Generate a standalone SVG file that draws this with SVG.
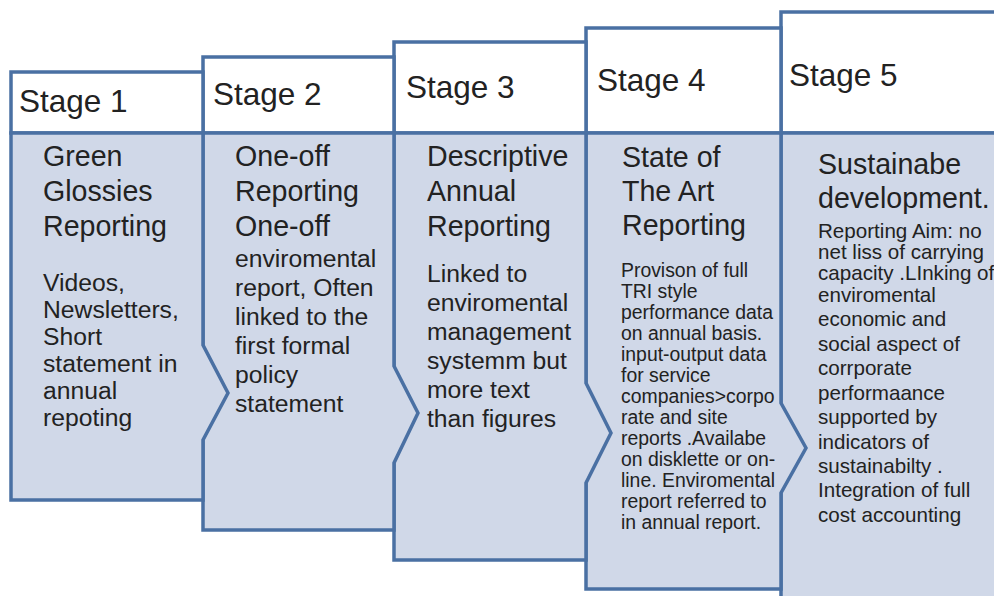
<svg xmlns="http://www.w3.org/2000/svg" width="994" height="596" viewBox="0 0 994 596">
  <style>
    .edge { stroke: #4A70A3; stroke-width: 3.5; stroke-linejoin: miter; }
    .head { fill: #FFFFFF; }
    .body { fill: #D0D8E8; }
    text { font-family: "Liberation Sans", Arial, sans-serif; fill: #222222; }
    .lbl { font-size: 31.5px; }
    .ttl { font-size: 28.6px; }
    .txt { font-size: 24.7px; }
    .txt4 { font-size: 19.4px; }
    .txt5 { font-size: 20.6px; }
  </style>
  <rect width="994" height="596" fill="#FFFFFF"/>

  <!-- stages are drawn back to front so each arrow tip overlaps the next column -->
  <g id="stage5">
    <rect class="head edge" x="781" y="12" width="230" height="121"/>
    <rect class="body edge" x="781" y="133" width="230" height="487"/>
    <text class="lbl" x="789" y="86">Stage 5</text>
    <text class="ttl" x="818" y="174">Sustainabe</text>
    <text class="ttl" x="818" y="208">development.</text>
    <text class="txt5" x="818" y="238">Reporting Aim: no</text>
    <text class="txt5" x="818" y="259">net liss of carrying</text>
    <text class="txt5" x="818" y="280">capacity .LInking of</text>
    <text class="txt5" x="818" y="302">enviromental</text>
    <text class="txt5" x="818" y="326">economic and</text>
    <text class="txt5" x="818" y="351">social aspect of</text>
    <text class="txt5" x="818" y="375">corrporate</text>
    <text class="txt5" x="818" y="400">performaance</text>
    <text class="txt5" x="818" y="424">supported by</text>
    <text class="txt5" x="818" y="449">indicators of</text>
    <text class="txt5" x="818" y="473">sustainabilty .</text>
    <text class="txt5" x="818" y="497">Integration of full</text>
    <text class="txt5" x="818" y="522">cost accounting</text>
  </g>

  <g id="stage4">
    <rect class="head edge" x="586" y="28" width="195" height="105"/>
    <polygon class="body edge" points="586,133 781,133 781,403 806,448 781,493 781,589 586,589"/>
    <text class="lbl" x="597" y="91">Stage 4</text>
    <text class="ttl" x="622" y="167">State of</text>
    <text class="ttl" x="622" y="201">The Art</text>
    <text class="ttl" x="622" y="235">Reporting</text>
    <text class="txt4" x="621" y="277">Provison of full</text>
    <text class="txt4" x="621" y="298">TRI style</text>
    <text class="txt4" x="621" y="319">performance data</text>
    <text class="txt4" x="621" y="340">on annual basis.</text>
    <text class="txt4" x="621" y="361">input-output data</text>
    <text class="txt4" x="621" y="382">for service</text>
    <text class="txt4" x="621" y="403">companies&gt;corpo</text>
    <text class="txt4" x="621" y="424">rate and site</text>
    <text class="txt4" x="621" y="445">reports .Availabe</text>
    <text class="txt4" x="621" y="466">on disklette or on-</text>
    <text class="txt4" x="621" y="487">line. Enviromental</text>
    <text class="txt4" x="621" y="508">report referred to</text>
    <text class="txt4" x="621" y="529">in annual report.</text>
  </g>

  <g id="stage3">
    <rect class="head edge" x="394" y="42" width="192" height="91"/>
    <polygon class="body edge" points="394,133 586,133 586,383 611,433 586,483 586,560 394,560"/>
    <text class="lbl" x="406" y="98">Stage 3</text>
    <text class="ttl" x="427" y="166">Descriptive</text>
    <text class="ttl" x="427" y="201">Annual</text>
    <text class="ttl" x="427" y="236">Reporting</text>
    <text class="txt" x="427" y="282">Linked to</text>
    <text class="txt" x="427" y="311">enviromental</text>
    <text class="txt" x="427" y="340">management</text>
    <text class="txt" x="427" y="369">systemm but</text>
    <text class="txt" x="427" y="398">more text</text>
    <text class="txt" x="427" y="427">than figures</text>
  </g>

  <g id="stage2">
    <rect class="head edge" x="203" y="57" width="191" height="76"/>
    <polygon class="body edge" points="203,133 394,133 394,366 418,413 394,463 394,530 203,530"/>
    <text class="lbl" x="213" y="105">Stage 2</text>
    <text class="ttl" x="235" y="166">One-off</text>
    <text class="ttl" x="235" y="201">Reporting</text>
    <text class="ttl" x="235" y="236">One-off</text>
    <text class="txt" x="235" y="267">enviromental</text>
    <text class="txt" x="235" y="296">report, Often</text>
    <text class="txt" x="235" y="325">linked to the</text>
    <text class="txt" x="235" y="354">first formal</text>
    <text class="txt" x="235" y="383">policy</text>
    <text class="txt" x="235" y="412">statement</text>
  </g>

  <g id="stage1">
    <rect class="head edge" x="11" y="72" width="192" height="61"/>
    <polygon class="body edge" points="11,133 203,133 203,345 228,393 203,440 203,500 11,500"/>
    <text class="lbl" x="19" y="112">Stage 1</text>
    <text class="ttl" x="43" y="166">Green</text>
    <text class="ttl" x="43" y="201">Glossies</text>
    <text class="ttl" x="43" y="236">Reporting</text>
    <text class="txt" x="43" y="291">Videos,</text>
    <text class="txt" x="43" y="318">Newsletters,</text>
    <text class="txt" x="43" y="345">Short</text>
    <text class="txt" x="43" y="372">statement in</text>
    <text class="txt" x="43" y="399">annual</text>
    <text class="txt" x="43" y="426">repoting</text>
  </g>

  <!-- the arrow tips between columns are part of each stage outline -->
  <g id="connectors"/>
</svg>
